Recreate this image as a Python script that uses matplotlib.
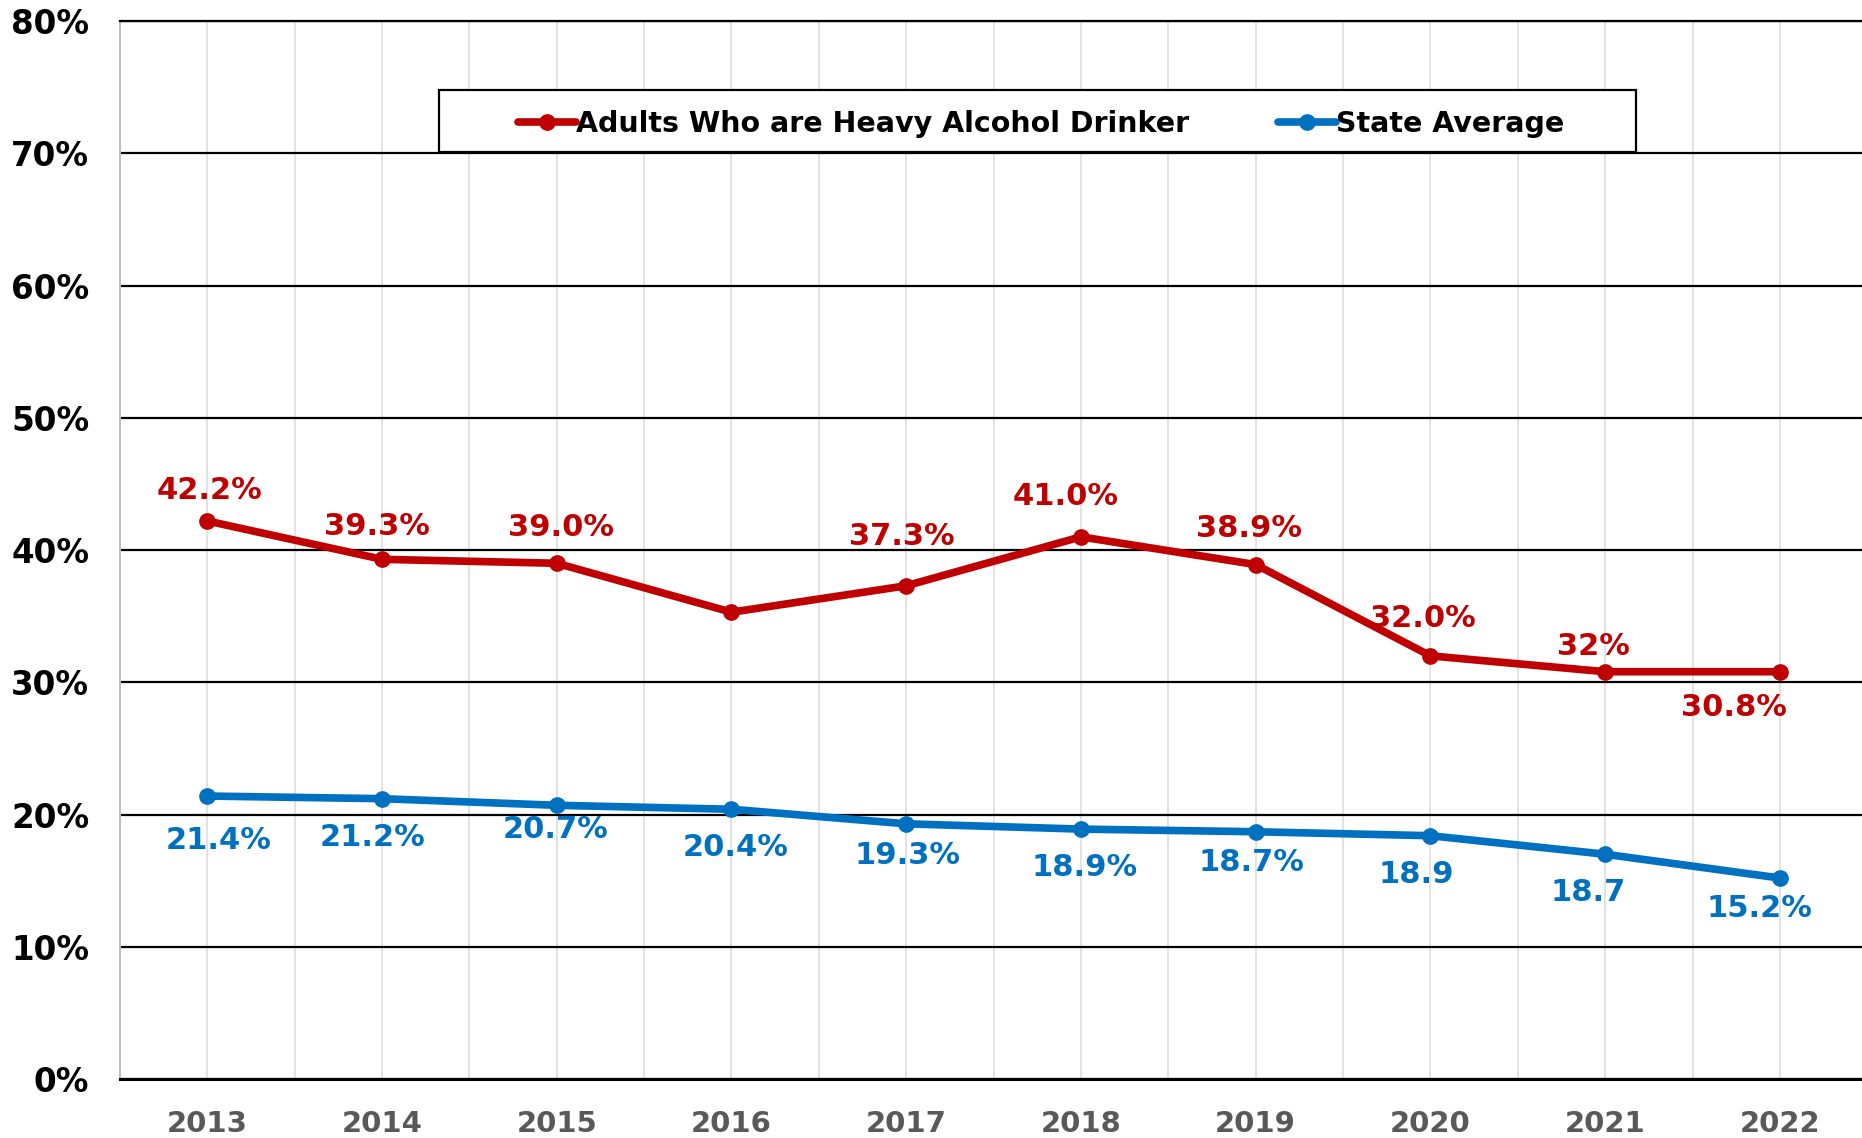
import matplotlib
matplotlib.use("Agg")
import matplotlib.pyplot as plt
from matplotlib.patches import Rectangle
from matplotlib.ticker import FixedLocator, FuncFormatter

years = ["2013", "2014", "2015", "2016", "2017", "2018", "2019", "2020", "2021", "2022"]
heavy = [42.2, 39.3, 39.0, 35.3, 37.3, 41.0, 38.9, 32.0, 30.8, 30.8]
heavy_labels = ["42.2%", "39.3%", "39.0%", "", "37.3%", "41.0%", "38.9%", "32.0%", "32%", "30.8%"]
state = [21.4, 21.2, 20.7, 20.4, 19.3, 18.9, 18.7, 18.4, 17.0, 15.2]
state_labels = ["21.4%", "21.2%", "20.7%", "20.4%", "19.3%", "18.9%", "18.7%", "18.9", "18.7", "15.2%"]
series_names = ["Adults Who are Heavy Alcohol Drinker", "State Average"]

RED = "#C00000"
BLUE = "#0070C0"

# label offsets in pixels (dx, dy)
heavy_off = [(2, 30), (-5, 33), (4, 36), (0, 0), (-4, 49), (-15, 40), (-7, 36), (-8, 37), (-12, 25), (-46, -36)]
state_off = [(11, -44), (-10, -39), (-1, -24), (4, -38), (1, -32), (4, -38), (-4, -31), (-14, -39), (-17, -38), (-20, -30)]

plt.rcParams['font.family'] = ['DejaVu Sans']
fig = plt.figure(figsize=(18.62, 11.38), dpi=100)
ax = fig.add_axes([0.0644, 0.0518, 0.9356, 0.9297])

x = list(range(len(years)))
ax.set_xlim(-0.5, 9.47)
ax.set_ylim(0, 80)

# grids
ax.xaxis.set_major_locator(FixedLocator(x))
ax.xaxis.set_minor_locator(FixedLocator([i + 0.5 for i in x[:-1]]))
ax.yaxis.set_major_locator(FixedLocator(range(0, 81, 10)))
ax.grid(axis='y', which='major', color='black', linewidth=1.6, zorder=1)
ax.grid(axis='x', which='both', color='#DDDDDD', linewidth=1.2, zorder=1.5)
ax.set_axisbelow(True)

ax.spines['right'].set_visible(False)
ax.spines['left'].set_color('#BFBFBF')
ax.spines['left'].set_linewidth(1.5)
ax.spines['top'].set_color('black')
ax.spines['top'].set_linewidth(1.6)
ax.spines['bottom'].set_color('black')
ax.spines['bottom'].set_linewidth(2.2)

ax.set_xticks(x)
ax.set_xticklabels(years)
ax.tick_params(axis='x', which='both', length=0, pad=22, labelsize=21, labelcolor='#595959')
ax.tick_params(axis='y', length=0, pad=22, labelsize=23.5, labelcolor='black')
ax.yaxis.set_major_formatter(FuncFormatter(lambda v, p: f"{int(v)}%"))
for lab in ax.get_xticklabels() + ax.get_yticklabels():
    lab.set_fontweight('bold')

l1, = ax.plot(x, heavy, color=RED, linewidth=5.5, marker='o', markersize=11, zorder=5,
              solid_capstyle='round', label=series_names[0])
l2, = ax.plot(x, state, color=BLUE, linewidth=5.5, marker='o', markersize=11, zorder=5,
              solid_capstyle='round', label=series_names[1])

for xi, v, t, (dx, dy) in zip(x, heavy, heavy_labels, heavy_off):
    if t:
        ax.annotate(t, (xi, v), xytext=(dx, dy), textcoords='offset pixels',
                    ha='center', va='center', fontsize=22, fontweight='bold', color=RED, zorder=6)
for xi, v, t, (dx, dy) in zip(x, state, state_labels, state_off):
    ax.annotate(t, (xi, v), xytext=(dx, dy), textcoords='offset pixels',
                ha='center', va='center', fontsize=22, fontweight='bold', color=BLUE, zorder=6)

# legend box
ax.add_patch(Rectangle((0.183, 0.876), 0.687, 0.059, transform=ax.transAxes,
                       facecolor='white', edgecolor='black', linewidth=1.6, zorder=7))
leg = ax.legend(handles=[l1, l2], loc='center', bbox_to_anchor=(0.5287, 0.903), ncol=2,
                frameon=False, handlelength=2.05, handletextpad=0.0, columnspacing=3.1,
                prop={'weight': 'bold', 'size': 20.5})
leg.set_zorder(8)

fig.savefig("out.png", dpi=100)
